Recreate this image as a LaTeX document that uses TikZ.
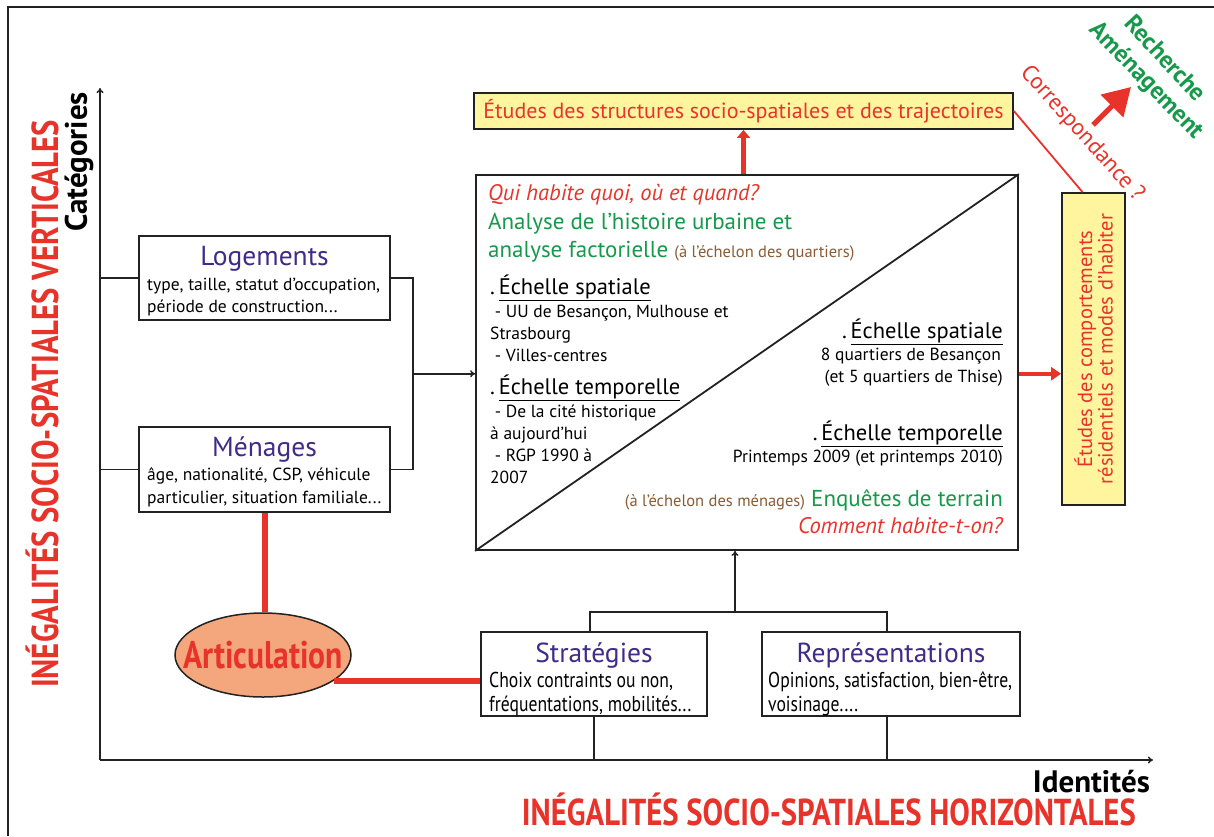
\documentclass[tikz,border=0pt]{standalone}
\usepackage{fontspec}
\setmainfont{PT Sans}
\newfontfamily\cond[FakeStretch=0.82]{PT Sans}
\usetikzlibrary{arrows.meta,calc,shapes.geometric}
\definecolor{myred}{HTML}{E8332A}
\definecolor{mygreen}{HTML}{16994A}
\definecolor{mypurple}{HTML}{3E2C88}
\definecolor{mybrown}{HTML}{8C5B33}
\definecolor{myyellow}{HTML}{FFF59E}
\definecolor{mysalmon}{HTML}{F4A67C}
\definecolor{myline}{HTML}{222222}
\newcommand\fs[1]{\fontsize{#1}{#1}\selectfont}
\begin{document}
\begin{tikzpicture}[x=1pt,y=-1pt,
  box/.style={draw=myline,line width=1.8pt,inner sep=0pt,fill=white},
  ybox/.style={draw=myline,line width=1.8pt,inner sep=0pt,fill=myyellow},
  ttl/.style={text=mypurple,font=\fs{27.5}},
  body/.style={anchor=base west,font=\fs{17.5},inner sep=0pt},
  bodyr/.style={anchor=base east,font=\fs{17.5},inner sep=0pt},
  cbody/.style={anchor=base west,font=\cond\fs{21.5},inner sep=0pt},
  head/.style={anchor=base west,font=\fs{22.5},inner sep=0pt},
  headr/.style={anchor=base east,font=\fs{22.5},inner sep=0pt},
  conn/.style={draw=myline,line width=1.5pt},
  arr/.style={conn,-{To[length=5pt,width=7pt]}},
  redthick/.style={draw=myred,line width=5pt},
]
\useasboundingbox (0,0) rectangle (1214,836);
% frame
\draw[line width=2pt,myline] (8,836) -- (8,7) -- (1214,7);

% axes
\coordinate (O) at (100,760);
\coordinate (ytop) at (100,88);
\coordinate (xend) at (1153,760);
\draw[arr] (O) -- (ytop);
\draw[arr] (O) -- (xend);
\node[rotate=90,font=\bfseries\fs{31}] (cat) at (79,162) {Catégories};
\node[rotate=90,font=\cond\bfseries\fs{37.5},text=myred] (ivert) at (42,404) {INÉGALITÉS SOCIO-SPATIALES VERTICALES};
\node[anchor=base east,font=\bfseries\fs{31},inner sep=0pt] (ident) at (1150,792) {Identités};
\node[anchor=base east,font=\cond\bfseries\fs{37.5},text=myred,inner sep=0pt] (ihor) at (1136,825) {INÉGALITÉS SOCIO-SPATIALES HORIZONTALES};

% boxes
\node[box,minimum width=251pt,minimum height=84pt] (log) at (264.5,278) {};
\node[ttl,anchor=base] (logt) at (264.5,265) {Logements};
\node[body] (log1) at (147,290) {type, taille, statut d’occupation,};
\node[body] (log2) at (147,312) {période de construction...};

\node[box,minimum width=251pt,minimum height=85pt] (men) at (264.5,469.5) {};
\node[ttl,anchor=base] (ment) at (264.5,456) {Ménages};
\node[body] (men1) at (147,480) {âge, nationalité, CSP, véhicule};
\node[body] (men2) at (147,503) {particulier, situation familiale...};

\node[box,minimum width=226pt,minimum height=84pt] (strat) at (594,674) {};
\node[ttl,anchor=base] (stratt) at (594,662) {Stratégies};
\node[cbody] (strat1) at (489,687) {Choix contraints ou non,};
\node[cbody] (strat2) at (489,711) {fréquentations, mobilités...};

\node[box,minimum width=258pt,minimum height=84pt] (rep) at (891,674) {};
\node[ttl,anchor=base] (rept) at (891,662) {Représentations};
\node[cbody] (rep1) at (768,687) {Opinions, satisfaction, bien-être,};
\node[cbody] (rep2) at (768,711) {voisinage....};

% connectors left
\draw[conn] (log.west) -- (log.west -| O);
\draw[conn] (men.west) -- (men.west -| O);
\coordinate (br) at ($(log.east)!0.5!(men.east)+(22,0)$);
\draw[conn] (log.east) -- ++(22,0) |- (men.east);

% big box
\node[box,minimum width=542pt,minimum height=375pt] (big) at (747,362.5) {};
\draw[line width=1.8pt,myline] (big.south west) -- (big.north east);
\draw[arr] (br) -- (br -| big.west);

% bottom connectors
\coordinate (jn) at (735,612);
\draw[conn] ([xshift=-4pt]strat.north) |- (jn) -| ([xshift=-4pt]rep.north);
\draw[arr] (jn) -- (jn |- big.south);
\draw[conn] (strat.south) -- (strat.south |- O);
\draw[conn] ([xshift=-4pt]rep.south) -- ([xshift=-4pt]rep.south |- O);

% big box text, upper-left
\node[anchor=base west,inner sep=0pt,font=\itshape\fs{22.5},text=myred] (q1) at (488,200) {Qui habite quoi, où et quand?};
\node[anchor=base west,inner sep=0pt,font=\fs{23},text=mygreen] (a1) at (488,229) {Analyse de l’histoire urbaine et};
\node[anchor=base west,inner sep=0pt,font=\fs{23},text=mygreen] (a2) at (488,257) {analyse factorielle \textcolor{mybrown}{\fs{16.5}(à l’échelon des quartiers)}};
\node[head] (h1) at (490,294) {.\,\underline{Échelle spatiale}};
\node[body] (l1) at (490,317) {\ - UU de Besançon, Mulhouse et};
\node[body] (l2) at (490,339) {Strasbourg};
\node[body] (l3) at (490,361) {\ - Villes-centres};
\node[head] (h2) at (490,394) {.\,\underline{Échelle temporelle}};
\node[body] (l4) at (490,417) {\ - De la cité historique};
\node[body] (l5) at (490,439) {à aujourd’hui};
\node[body] (l6) at (490,461) {\ - RGP 1990 à};
\node[body] (l7) at (490,483) {2007};

% big box text, lower-right
\node[headr] (h3) at (1003,338) {.\,\underline{Échelle spatiale}};
\node[bodyr] (r1) at (1001,360) {8 quartiers de Besançon};
\node[bodyr] (r2) at (1003,382) {(et 5 quartiers de Thise)};
\node[headr] (h4) at (1003,440) {.\,\underline{Échelle temporelle}};
\node[bodyr] (r3) at (1003,462) {Printemps 2009 (et printemps 2010)};
\node[anchor=base east,inner sep=0pt,font=\fs{23},text=mygreen] (e1) at (1003,506) {\textcolor{mybrown}{\fs{16.5}(à l’échelon des ménages)} Enquêtes de terrain};
\node[anchor=base east,inner sep=0pt,font=\itshape\fs{22.5},text=myred] (c1) at (1003,533) {Comment habite-t-on?};

% yellow boxes
\node[ybox,minimum width=539pt,minimum height=36pt,font=\fs{22},text=myred] (ytb) at (743.5,111) {Études des structures socio-spatiales et des trajectoires};
\node[ybox,minimum width=63pt,minimum height=312pt] (yr) at (1093.5,349) {};
\node[rotate=90,align=center,font=\fs{20.5},text=myred] (yrt) at (yr.center) {\fontsize{20.5}{24}\selectfont Études des comportements\\résidentiels et modes d’habiter};

\draw[redthick,line width=4.5pt,-{Triangle[length=8pt,width=13pt]}] (ytb.south |- big.north) -- (ytb.south);
\draw[redthick,line width=4pt,-{Triangle[length=10pt,width=13pt]}] (big.east |- br) -- (yr.west |- br);
\draw[myred,line width=1.8pt] (ytb.east) -- ($(yr.north west)!0.33!(yr.north east)$);

% top right annotations
\node[rotate=-48,font=\fs{23},text=myred] (corr) at (1082,134) {Correspondance ?};
\coordinate (ra) at (1093,125);
\coordinate (rb) at (1131,87);
\draw[myred,line width=5pt,-{Triangle[length=27pt,width=31pt]}] (ra) -- (rb);
\node[rotate=-47,font=\bfseries\fs{24.5},text=mygreen] (rech) at (1166,58) {Recherche};
\node[rotate=-46,font=\bfseries\fs{24.5},text=mygreen] (amen) at (1146,81) {Aménagement};

% articulation
\node[ellipse,draw=myline,line width=1.5pt,fill=mysalmon,minimum width=176pt,minimum height=84pt,inner sep=0pt] (art) at (263,655) {};
\node[font=\cond\bfseries\fs{38.5},text=myred,inner sep=0pt] (artt) at (art.center) {Articulation};
\draw[redthick,line width=6pt] (men.south) -- (men.south |- art.north);
\draw[redthick,line width=6pt] (art.-20) -- (art.-20 -| strat.west);
\end{tikzpicture}
\end{document}
